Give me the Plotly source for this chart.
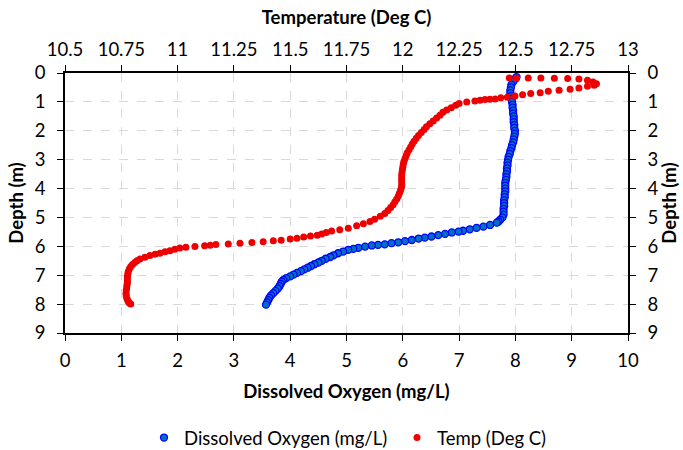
import plotly.graph_objects as go

# ---------------- data ----------------
do_depth = [0.14, 0.20, 0.30, 0.40, 0.50, 0.60, 0.70, 0.80, 0.90, 1.00,
            1.10, 1.20, 1.30, 1.40, 1.50, 1.60, 1.70, 1.80, 1.90, 2.00,
            2.10, 2.20, 2.30, 2.40, 2.50, 2.60, 2.70, 2.80, 2.90, 3.00,
            3.10, 3.20, 3.30, 3.40, 3.50, 3.60, 3.70, 3.80, 3.90, 4.00,
            4.10, 4.20, 4.30, 4.40, 4.50, 4.60, 4.70, 4.80, 4.90, 5.00,
            5.08, 5.14, 5.18, 5.26, 5.32, 5.36, 5.41, 5.46, 5.49, 5.52,
            5.57, 5.61, 5.66, 5.70, 5.73, 5.78, 5.82, 5.86, 5.89, 5.93,
            5.95, 5.97, 6.01, 6.05, 6.09, 6.12, 6.18, 6.24, 6.31, 6.37,
            6.43, 6.50, 6.56, 6.62, 6.68, 6.74, 6.80, 6.86, 6.92, 6.98,
            7.04, 7.10, 7.16, 7.22, 7.30, 7.38, 7.46, 7.54, 7.62, 7.70,
            7.78, 7.86, 7.94, 8.02]
do_mgl = [8.02, 8.00, 7.96, 7.93, 7.92, 7.91, 7.91, 7.92, 7.93, 7.94,
          7.95, 7.95, 7.96, 7.96, 7.97, 7.97, 7.97, 7.98, 7.98, 7.99,
          7.99, 7.98, 7.97, 7.96, 7.94, 7.93, 7.91, 7.90, 7.88, 7.87,
          7.86, 7.86, 7.85, 7.85, 7.84, 7.84, 7.83, 7.82, 7.82, 7.82,
          7.82, 7.81, 7.81, 7.80, 7.80, 7.80, 7.79, 7.79, 7.79, 7.77,
          7.73, 7.70, 7.67, 7.55, 7.43, 7.31, 7.19, 7.07, 6.99, 6.87,
          6.75, 6.63, 6.51, 6.39, 6.28, 6.16, 6.04, 5.92, 5.80, 5.68,
          5.56, 5.45, 5.33, 5.21, 5.12, 5.03, 4.94, 4.85, 4.77, 4.71,
          4.63, 4.56, 4.50, 4.43, 4.37, 4.31, 4.25, 4.19, 4.12, 4.06,
          4.00, 3.93, 3.88, 3.85, 3.83, 3.81, 3.78, 3.74, 3.70, 3.66,
          3.63, 3.61, 3.59, 3.57]

temp_depth = [0.17, 0.17, 0.17, 0.17, 0.18, 0.19, 0.21, 0.25, 0.31, 0.37,
              0.42, 0.46, 0.52, 0.56, 0.60, 0.63, 0.68, 0.71, 0.75, 0.80,
              0.84, 0.86, 0.90, 0.91, 0.92, 0.94, 0.97, 1.00, 1.06, 1.12,
              1.20, 1.28, 1.36, 1.46, 1.56, 1.66, 1.76, 1.86, 1.96, 2.06,
              2.16, 2.26, 2.36, 2.46, 2.56, 2.66, 2.76, 2.86, 2.96, 3.06,
              3.16, 3.26, 3.36, 3.46, 3.56, 3.66, 3.76, 3.86, 3.96, 4.06,
              4.16, 4.26, 4.36, 4.46, 4.56, 4.66, 4.76, 4.86, 4.96, 5.06,
              5.14, 5.22, 5.29, 5.37, 5.43, 5.47, 5.52, 5.57, 5.62, 5.64,
              5.68, 5.72, 5.75, 5.79, 5.81, 5.84, 5.87, 5.89, 5.92, 5.94,
              5.96, 5.98, 6.01, 6.03, 6.06, 6.10, 6.15, 6.19, 6.24, 6.27,
              6.32, 6.38, 6.44, 6.50, 6.56, 6.63, 6.70, 6.78, 6.87, 6.95,
              7.04, 7.12, 7.20, 7.27, 7.35, 7.44, 7.52, 7.62, 7.70, 7.79,
              7.86, 7.91, 7.96, 8.00]
temp_c = [12.473, 12.505, 12.557, 12.613, 12.673, 12.732, 12.782, 12.820, 12.845, 12.860,
          12.850, 12.820, 12.782, 12.743, 12.694, 12.646, 12.610, 12.568, 12.532, 12.498,
          12.464, 12.435, 12.410, 12.387, 12.365, 12.343, 12.320, 12.284, 12.250, 12.235,
          12.215, 12.195, 12.178, 12.165, 12.150, 12.135, 12.120, 12.105, 12.095, 12.082,
          12.070, 12.060, 12.050, 12.042, 12.035, 12.028, 12.020, 12.015, 12.010, 12.005,
          12.002, 12.000, 11.998, 11.996, 11.995, 11.995, 11.995, 11.995, 11.994, 11.990,
          11.985, 11.980, 11.973, 11.965, 11.957, 11.946, 11.934, 11.920, 11.900, 11.875,
          11.854, 11.825, 11.795, 11.758, 11.720, 11.684, 11.660, 11.640, 11.620, 11.590,
          11.560, 11.530, 11.500, 11.460, 11.425, 11.380, 11.330, 11.277, 11.225, 11.170,
          11.145, 11.120, 11.077, 11.037, 11.010, 10.988, 10.966, 10.944, 10.922, 10.900,
          10.877, 10.855, 10.833, 10.820, 10.810, 10.800, 10.792, 10.786, 10.781, 10.779,
          10.777, 10.777, 10.777, 10.777, 10.775, 10.774, 10.772, 10.771, 10.772, 10.774,
          10.778, 10.781, 10.786, 10.792]

do_ticks = [0, 1, 2, 3, 4, 5, 6, 7, 8, 9, 10]
temp_ticks = [10.5, 10.75, 11, 11.25, 11.5, 11.75, 12, 12.25, 12.5, 12.75, 13]
temp_tick_labels = ["10.5", "10.75", "11", "11.25", "11.5", "11.75", "12",
                    "12.25", "12.5", "12.75", "13"]
depth_ticks = [0, 1, 2, 3, 4, 5, 6, 7, 8, 9]

FONT = "Lato"
TICKFONT = dict(family=FONT, size=18.5, color="#000000")
TITLEFONT = dict(family=FONT, size=18.5, color="#000000", weight="bold")

fig = go.Figure()
fig.add_trace(go.Scatter(
    x=do_mgl, y=do_depth, mode="markers", name="Dissolved Oxygen (mg/L)",
    xaxis="x", yaxis="y",
    marker=dict(size=7, color="#0070C0", line=dict(color="#0000FF", width=1.3)),
))
fig.add_trace(go.Scatter(
    x=temp_c, y=temp_depth, mode="markers", name="Temp (Deg C)",
    xaxis="x2", yaxis="y2",
    marker=dict(size=7, color="#EE0000", line=dict(width=0)),
))

axis_common = dict(showline=True, linecolor="#000000", linewidth=1.5,
                   ticks="outside", ticklen=6, tickcolor="#000000", tickwidth=1.2,
                   tickfont=TICKFONT, zeroline=False, automargin=False)

PLOT_L, PLOT_R, PLOT_T, PLOT_B = 65, 628, 73, 333
PLOT_W, PLOT_H = PLOT_R - PLOT_L, PLOT_B - PLOT_T

fig.update_layout(
    width=683, height=450,
    margin=dict(l=PLOT_L, r=683 - PLOT_R, t=PLOT_T, b=450 - PLOT_B, autoexpand=False),
    paper_bgcolor="#ffffff", plot_bgcolor="#ffffff",
    font=dict(family=FONT, color="#000000"),
    showlegend=True,
    legend=dict(orientation="h", x=(144 - PLOT_L) / PLOT_W, xanchor="left",
                y=-(438 - PLOT_B) / PLOT_H, yanchor="middle",
                font=dict(family=FONT, size=18.5, color="#000000"),
                traceorder="normal", entrywidth=208, entrywidthmode="pixels",
                itemwidth=30),
    xaxis=dict(range=[0, 10], tickvals=do_ticks, showgrid=True,
               gridcolor="#D9D9D9", gridwidth=1.3, griddash="dash",
               ticklabelstandoff=4,
               title=dict(text="Dissolved Oxygen (mg/L)", font=TITLEFONT, standoff=15),
               **axis_common),
    xaxis2=dict(range=[10.5, 13], tickvals=temp_ticks, ticktext=temp_tick_labels,
                overlaying="x", side="top", anchor="y2", showgrid=False,
                ticklabelstandoff=2,
                title=dict(text="Temperature (Deg C)", font=TITLEFONT, standoff=8),
                **axis_common),
    yaxis=dict(range=[9, 0], tickvals=depth_ticks, showgrid=True,
               gridcolor="#D9D9D9", gridwidth=1.3, griddash="dash",
               ticklabelstandoff=8,
               title=dict(text="Depth (m)", font=TITLEFONT, standoff=6),
               **axis_common),
    yaxis2=dict(range=[9, 0], tickvals=depth_ticks, overlaying="y", side="right",
                anchor="x2", showgrid=False, ticklabelstandoff=8,
                title=dict(text="Depth (m)", font=TITLEFONT, standoff=6),
                **axis_common),
)

fig.write_html("out.html", config={"displayModeBar": False},
               post_script="document.body.style.margin='0';")
